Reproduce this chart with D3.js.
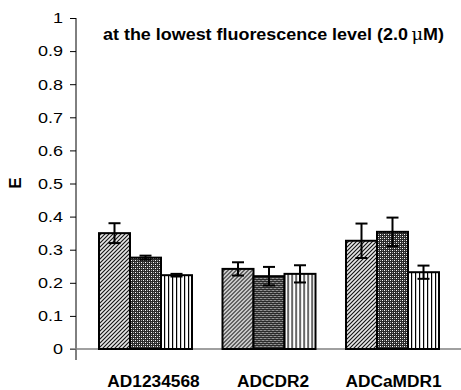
<!DOCTYPE html>
<html>
<head>
<meta charset="utf-8">
<script src="https://cdn.jsdelivr.net/npm/d3@7"></script>
<style>
  body { margin: 0; background: #fff; }
  svg { display: block; font-family: Arial, "Liberation Sans", sans-serif; }
</style>
</head>
<body>
<div id="chart"></div>
<script>
// chart data
const categories = ['AD1234568', 'ADCDR2', 'ADCaMDR1'];
const seriesNames = ['s1', 's2', 's3'];
const values = [
  [0.350, 0.276, 0.223],
  [0.242, 0.220, 0.227],
  [0.327, 0.354, 0.232]
];
const errors = [
  [0.030, 0.006, 0.004],
  [0.020, 0.028, 0.026],
  [0.052, 0.043, 0.020]
];
const yTicks = [0, 0.1, 0.2, 0.3, 0.4, 0.5, 0.6, 0.7, 0.8, 0.9, 1];

const width = 461, height = 390;
const svg = d3.select('#chart').append('svg')
  .attr('width', width)
  .attr('height', height);

// the original picture is a bit wider than tall, so text is stretched sideways
function stretch(sel, k) {
  sel.each(function () {
    const w = this.getComputedTextLength();
    d3.select(this).attr('textLength', w * k).attr('lengthAdjust', 'spacingAndGlyphs');
  });
}

// patterns for the three series
const defs = svg.append('defs');
const p1 = defs.append('pattern').attr('id', 'pat0')
  .attr('patternUnits', 'userSpaceOnUse').attr('width', 4).attr('height', 4);
p1.append('rect').attr('width', 4).attr('height', 4).attr('fill', '#e6e6e6');
p1.append('path').attr('d', 'M-1,1 L1,-1 M0,4 L4,0 M3,5 L5,3')
  .attr('stroke', '#111').attr('stroke-width', 1.1);

const p2 = defs.append('pattern').attr('id', 'pat1')
  .attr('patternUnits', 'userSpaceOnUse').attr('width', 4).attr('height', 4);
p2.append('rect').attr('width', 4).attr('height', 4).attr('fill', '#2a2a2a');
p2.append('rect').attr('x', 0).attr('y', 0).attr('width', 1).attr('height', 1).attr('fill', '#fff');
p2.append('rect').attr('x', 2).attr('y', 2).attr('width', 1).attr('height', 1).attr('fill', '#fff');
p2.append('rect').attr('x', 2).attr('y', 0).attr('width', 1).attr('height', 1).attr('fill', '#999');
p2.append('rect').attr('x', 0).attr('y', 2).attr('width', 1).attr('height', 1).attr('fill', '#999');

const p3 = defs.append('pattern').attr('id', 'pat2')
  .attr('patternUnits', 'userSpaceOnUse').attr('width', 4).attr('height', 4);
p3.append('rect').attr('width', 4).attr('height', 4).attr('fill', '#fff');
p3.append('rect').attr('x', 1).attr('width', 1.2).attr('height', 4).attr('fill', '#000');

// scales
const y = d3.scaleLinear().domain([0, 1]).range([349, 18]);
const x0 = d3.scaleBand().domain(categories).range([83.75, 454.25])
  .paddingInner(0.247).paddingOuter(0.1235);
const x1 = d3.scaleBand().domain(seriesNames).range([0, x0.bandwidth()]);

// y axis
const yAxis = svg.append('g')
  .attr('transform', 'translate(76,0)')
  .call(d3.axisLeft(y).tickValues(yTicks).tickSize(6).tickPadding(6)
    .tickFormat(d => d3.format('')(+d.toFixed(1))));
yAxis.select('.domain').remove();
yAxis.selectAll('.tick line').attr('stroke', '#000');
yAxis.selectAll('.tick text').attr('font-size', 15).attr('fill', '#000')
  .attr('font-family', 'Arial, "Liberation Sans", sans-serif')
  .attr('x', -13)
  .call(stretch, 1.2);
svg.append('line').attr('x1', 76).attr('x2', 76).attr('y1', y(1)).attr('y2', 360)
  .attr('stroke', '#000').attr('stroke-width', 1);

// x axis line
svg.append('line').attr('x1', 70).attr('x2', 461).attr('y1', y(0)).attr('y2', y(0))
  .attr('stroke', '#808080').attr('stroke-width', 1.5);

// bars
const groups = svg.selectAll('.grp')
  .data(categories)
  .enter().append('g')
  .attr('class', 'grp')
  .attr('transform', d => `translate(${x0(d)},0)`);

groups.selectAll('rect')
  .data((d, i) => values[i].map((v, j) => ({ v: v, e: errors[i][j], s: seriesNames[j], j: j })))
  .enter().append('rect')
  .attr('x', d => x1(d.s))
  .attr('y', d => y(d.v))
  .attr('width', x1.bandwidth())
  .attr('height', d => y(0) - y(d.v))
  .attr('fill', d => `url(#pat${d.j})`)
  .attr('stroke', '#000')
  .attr('stroke-width', 2);

// error bars
const eb = groups.selectAll('.err')
  .data((d, i) => values[i].map((v, j) => ({ v: v, e: errors[i][j], s: seriesNames[j] })))
  .enter().append('g').attr('class', 'err')
  .attr('transform', d => `translate(${x1(d.s) + x1.bandwidth() / 2},0)`);
eb.append('line').attr('x1', 0).attr('x2', 0)
  .attr('y1', d => y(d.v + d.e)).attr('y2', d => y(d.v - d.e))
  .attr('stroke', '#000').attr('stroke-width', 2);
eb.append('line').attr('x1', -6).attr('x2', 6)
  .attr('y1', d => y(d.v + d.e)).attr('y2', d => y(d.v + d.e))
  .attr('stroke', '#000').attr('stroke-width', 2);
eb.append('line').attr('x1', -6).attr('x2', 6)
  .attr('y1', d => y(d.v - d.e)).attr('y2', d => y(d.v - d.e))
  .attr('stroke', '#000').attr('stroke-width', 2);

// category labels (the original sits them a little right of the bar groups)
const labelShift = [8, 4, 1];
svg.selectAll('.cat')
  .data(categories)
  .enter().append('text')
  .attr('class', 'cat')
  .attr('x', (d, i) => x0(d) + x0.bandwidth() / 2 + labelShift[i])
  .attr('y', 387)
  .attr('text-anchor', 'middle')
  .attr('font-size', 16)
  .attr('font-weight', 'bold')
  .text(d => d)
  .call(stretch, 1.08);

// y label
svg.append('text')
  .attr('transform', 'translate(21,183) rotate(-90)')
  .attr('text-anchor', 'middle')
  .attr('font-size', 17)
  .attr('font-weight', 'bold')
  .text('E');

// title
const title = svg.append('text')
  .attr('x', 103).attr('y', 40)
  .attr('font-size', 16)
  .attr('font-weight', 'bold')
  .text('at the lowest fluorescence level (2.0\u2009');
title.append('tspan').attr('font-family', '"DejaVu Serif", serif').attr('font-weight', 'normal').text('\u03bc');
title.append('tspan').text('M)');
title.attr('textLength', 341).attr('lengthAdjust', 'spacingAndGlyphs');
</script>
</body>
</html>
